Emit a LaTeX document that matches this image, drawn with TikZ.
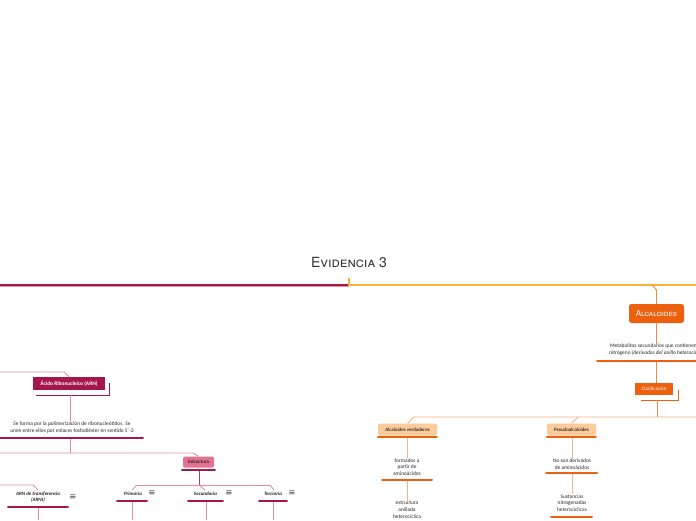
\documentclass[tikz,border=0pt]{standalone}
\usepackage{fontspec}
\setmainfont{Carlito}
\newfontfamily\titlefont{TeX Gyre Heros}
\newfontfamily\symfont{DejaVu Sans}
\usetikzlibrary{positioning}
\definecolor{crimson}{HTML}{A5164B}
\definecolor{crimsonlight}{HTML}{DD8FAA}
\definecolor{rosebox}{HTML}{E2728F}
\definecolor{orangedark}{HTML}{EC600E}
\definecolor{orangemid}{HTML}{EE8A4A}
\definecolor{orangelight}{HTML}{F5B487}
\definecolor{peach}{HTML}{FCCB9B}
\definecolor{mainyellow}{HTML}{F6B23D}
\tikzset{
  txt/.style={font=\fontsize{5.4}{6.8}\selectfont, align=center, inner sep=0pt, text=black!85},
  childtxt/.style={txt, font=\fontsize{5}{6.6}\selectfont\bfseries\itshape},
  menu/.style={font=\symfont\fontsize{8.5}{8.5}\selectfont, inner sep=0pt, text=black!75},
  orangebox/.style={fill=orangedark, rounded corners=2.5pt, text=white, inner sep=0pt,
    minimum width=55pt, minimum height=19pt, font=\titlefont\fontsize{8}{8}\selectfont},
  clasbox/.style={fill=orangedark, text=white, inner sep=0pt, minimum width=38pt,
    minimum height=12pt, font=\fontsize{5}{5}\selectfont},
  peachbox/.style={fill=peach, rounded corners=1.5pt, text=black, inner sep=0pt,
    minimum height=12pt, font=\fontsize{5}{5}\selectfont},
  arnbox/.style={fill=crimson, text=white, inner sep=0pt, minimum width=72pt,
    minimum height=13pt, font=\fontsize{5.4}{5.4}\selectfont\bfseries},
  rosenode/.style={fill=rosebox, rounded corners=1.5pt, text=black, inner sep=0pt,
    minimum width=31pt, minimum height=11pt, font=\fontsize{5}{5}\selectfont},
  ulorange/.style={orangedark, line width=2pt, line cap=round},
  ulcrimson/.style={crimson, line width=2pt, line cap=round},
  orangeconn/.style={orangemid, line width=0.9pt},
  orangethin/.style={orangelight, line width=0.9pt},
  crimsonconn/.style={crimsonlight, line width=0.9pt},
  crimsondark/.style={crimson!70!crimsonlight, line width=1pt}
}
\begin{document}
\begin{tikzpicture}[x=1pt,y=-1pt]
  \useasboundingbox (0,0) rectangle (696,520);
  \fill[white] (0,0) rectangle (696,520);

  % title and main line
  \node[font=\titlefont\fontsize{14}{14}\selectfont, text=black!80] (title) at (349,262) {\textsc{Evidencia 3}};
  \coordinate (mainleft) at (0,285);
  \coordinate (mainhub) at (349,285);
  \coordinate (maintick) at (349,278);
  \coordinate (mainright) at (696,285);
  \draw[crimsonlight, line width=0.8pt] (0,286.4) -- (349,286.4);
  \draw[crimson, line width=1.1pt] (mainleft) -- (mainhub);
  \draw[mainyellow, line width=1.1pt] (maintick) -- (mainhub) -- (mainright);

  % Alcaloides branch
  \node[orangebox] (alc) at (656.5,313.5) {\textsc{Alcaloides}};
  \coordinate (alcroot) at (652,285);
  \draw[orangeconn] (alcroot) -- (656.5,290) -- (alc.north);
  \node[txt, anchor=north west, align=left] (metab) at (609,344)
    {\,Metabolitos secundarios que contienen\\nitrógeno \textit{(derivados del anillo heterocíclico)}};
  \draw[ulorange] (597,361) -- (700,361);
  \draw[orangeconn] (alc.south) -- (alc.south |- metab.north);

  \node[clasbox] (clas) at (654,389) {Clasificación};
  \draw[orangeconn] (656.5,362) -- (656.5,383);
  \draw[orangedark, line width=1.1pt] ([shift={(5,-5)}]clas.south east) |- ([shift={(6,5)}]clas.south west);

  \node[peachbox, minimum width=59pt] (verd) at (407.5,429.5) {Alcaloides verdaderos};
  \node[peachbox, minimum width=49pt] (pseudo) at (571.5,429.5) {Pseudoalcaloides};
  \coordinate (clasright) at (696,417);
  \draw[orangeconn] (657,400) -- (657,417);
  \draw[orangethin] (clasright) -- (414,417) -- (409,422) -- (verd.north);
  \draw[orangethin] (578,417) -- (573,422) -- (pseudo.north);
  \draw[ulorange] (verd.south west) ++(0,1.5) -- ++(59,0);
  \draw[ulorange] (pseudo.south west) ++(0,1.5) -- ++(49,0);

  \node[txt] (formados) at (407,467) {formados a\\partir de\\aminoácidos};
  \draw[ulorange] (382,480) -- (432,480);
  \node[txt] (anillo) at (407,510) {estructura\\anillada\\heterocíclica};
  \draw[orangethin] (407,438) -- (formados.north);
  \draw[orangethin] (407,481) -- (anillo.north);

  \node[txt] (noderiv) at (572,464) {No son derivados\\de aminoácidos};
  \draw[ulorange] (546,473) -- (597,473);
  \node[txt] (sustan) at (572,503) {Sustancias\\nitrogenadas\\heterocíclicas};
  \draw[ulorange] (551,517) -- (592,517);
  \draw[orangethin] (572,438) -- (noderiv.north);
  \draw[orangethin] (572,474) -- (sustan.north);

  % ARN branch
  \node[arnbox] (arn) at (69,383.5) {Ácido Ribonucleico (ARN)};
  \coordinate (arnroot) at (0,372);
  \draw[crimsonconn] (arnroot) -- (64,372) -- (arn.north);
  \draw[crimson, line width=1.1pt] ([shift={(4,-7)}]arn.south east) |- ([shift={(3,5)}]arn.south west);

  \node[txt] (forma) at (72,427.5)
    {Se forma por la polimerización de ribonucleótidos. Se\\unen entre ellos por enlaces fosfodiéster en sentido 5´-3};
  \draw[ulcrimson] (-2,438) -- (143,438);
  \draw[crimsonconn] (70,395) -- (forma.north -| 70,0);

  \node[rosenode] (estr) at (198.5,462) {Estructura};
  \draw[ulcrimson] (182,470) -- (215,470);
  \coordinate (estrleft) at (0,453);
  \draw[crimsonconn] (70,439) -- (70,453);
  \draw[crimsonconn] (estrleft) -- (193,453) -- (estr.north);

  \node[childtxt] (arnt) at (38,497) {ARN de transferencia\\(ARNt)};
  \node[menu] (arntmenu) at (73,497) {≡};
  \node[childtxt] (prim) at (133,493.5) {Primaria};
  \node[menu] (primmenu) at (152,493.5) {≡};
  \node[childtxt] (secu) at (205.5,493.5) {Secundaria};
  \node[menu] (secumenu) at (229,493.5) {≡};
  \node[childtxt] (terc) at (273,493.5) {Terciaria};
  \node[menu] (tercmenu) at (292,493.5) {≡};
  \draw[ulcrimson] (8,507) -- (68,507);
  \draw[ulcrimson] (117,501) -- (147,501);
  \draw[ulcrimson] (188,501) -- (223,501);
  \draw[ulcrimson] (259,501) -- (287,501);

  \coordinate (arntleft) at (0,485);
  \draw[crimsondark] (199,471) -- (199,485);
  \draw[crimsonconn] (137,485) -- (270,485);
  \draw[crimsonconn] (137,485) -- (132,490);
  \draw[crimsonconn] (199,485) -- (205,490);
  \draw[crimsonconn] (270,485) -- (274,490);
  \draw[crimsonconn] (arntleft) -- (33,485) -- (38,490);

  \coordinate (arntdown) at (38,520);
  \coordinate (primdown) at (132,520);
  \coordinate (secudown) at (206,520);
  \coordinate (tercdown) at (273,520);
  \draw[crimsonconn] (38,508) -- (arntdown);
  \draw[crimsonconn] (132,502) -- (primdown);
  \draw[crimsonconn] (206,502) -- (secudown);
  \draw[crimsonconn] (273,502) -- (tercdown);
\end{tikzpicture}
\end{document}
